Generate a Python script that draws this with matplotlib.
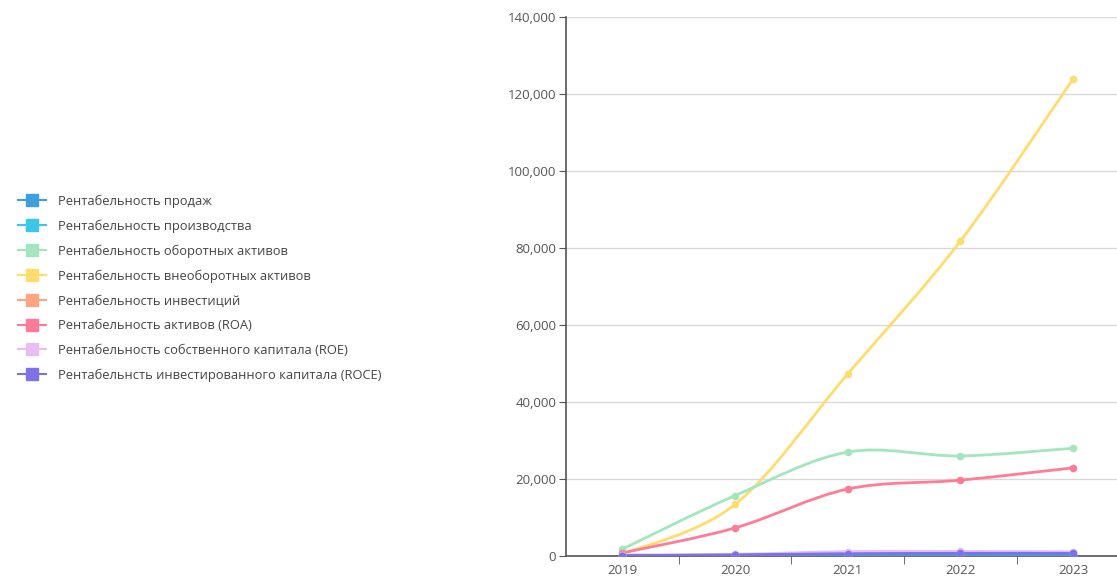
import numpy as np
import matplotlib.pyplot as plt
from matplotlib.path import Path
from matplotlib.patches import PathPatch
from matplotlib.lines import Line2D
from matplotlib.ticker import FuncFormatter, FixedLocator

plt.rcParams['font.family'] = ['Open Sans', 'DejaVu Sans']

years = ['2019', '2020', '2021', '2022', '2023']

sales = [80, 150, 250, 300, 280]
production = [120, 200, 350, 400, 380]
current_assets = [1800, 15700, 27000, 26000, 28000]
noncurrent_assets = [500, 13400, 47300, 81800, 123900]
investments = [60, 120, 200, 220, 210]
roa = [800, 7300, 17400, 19700, 22900]
roe = [300, 450, 1150, 1200, 1100]
roce = [100, 300, 600, 700, 700]

names = [
    'Рентабельность продаж',
    'Рентабельность производства',
    'Рентабельность оборотных активов',
    'Рентабельность внеоборотных активов',
    'Рентабельность инвестиций',
    'Рентабельность активов (ROA)',
    'Рентабельность собственного капитала (ROE)',
    'Рентабельнсть инвестированного капитала (ROCE)',
]
series = [sales, production, current_assets, noncurrent_assets,
          investments, roa, roe, roce]
colors = ['#3d9fdc', '#3cc6ea', '#a3e6bd', '#ffdc6e',
          '#ffa583', '#ff7b96', '#e8bdf2', '#7e72e6']

# draw order: background series first so the small ones stay on top
draw_order = [3, 2, 5, 4, 6, 1, 0, 7]


def smooth_path(x, y, t=0.5):
    # Catmull-Rom curve written as cubic bezier segments
    pts = np.column_stack([x, y]).astype(float)
    verts = [pts[0]]
    codes = [Path.MOVETO]
    n = len(pts)
    for i in range(n - 1):
        p0 = pts[i - 1] if i > 0 else pts[i]
        p1 = pts[i]
        p2 = pts[i + 1]
        p3 = pts[i + 2] if i + 2 < n else pts[i + 1]
        c1 = p1 + (p2 - p0) * t / 3
        c2 = p2 - (p3 - p1) * t / 3
        verts += [c1, c2, p2]
        codes += [Path.CURVE4] * 3
    return Path(verts, codes)


fig = plt.figure(figsize=(11.17, 5.79), dpi=100)
ax = fig.add_axes([0.5067, 0.0397, 0.4933, 0.9309])

xs = np.arange(len(years))
for k in draw_order:
    ax.add_patch(PathPatch(smooth_path(xs, series[k]), facecolor='none',
                           edgecolor=colors[k], lw=2, zorder=3))
    ax.plot(xs, series[k], ls='none', marker='o', ms=4.5,
            color=colors[k], zorder=4)

ax.set_xlim(-0.5, 4.39)
ax.set_ylim(0, 140000)
ax.set_yticks(np.arange(0, 140001, 20000))
ax.yaxis.set_major_formatter(FuncFormatter(lambda v, p: f'{int(v):,}'))
ax.set_xticks(xs)
ax.set_xticklabels(years)
ax.xaxis.set_minor_locator(FixedLocator(xs[:-1] + 0.5))
ax.tick_params(axis='x', which='major', length=0, pad=6,
               labelsize=9.5, labelcolor='#555555')
ax.tick_params(axis='x', which='minor', length=6, color='#555555')
ax.tick_params(axis='y', length=5, color='#555555', labelsize=9.5,
               labelcolor='#555555', pad=2)
ax.grid(axis='y', color='#d9d9d9', lw=1)
ax.set_axisbelow(True)
for s in ['top', 'right']:
    ax.spines[s].set_visible(False)
for s in ['left', 'bottom']:
    ax.spines[s].set_color('#555555')
    ax.spines[s].set_linewidth(1.2)

handles = [Line2D([0], [0], color=c, lw=1.5, marker='s', ms=9,
                  markerfacecolor=c, markeredgecolor=c) for c in colors]
fig.legend(handles, names, loc='upper left', bbox_to_anchor=(0.0055, 0.684),
           frameon=False, fontsize=9.3, labelspacing=0.9, handlelength=2.15,
           handletextpad=0.95, labelcolor='#444444')

fig.savefig('out.png', dpi=100)
